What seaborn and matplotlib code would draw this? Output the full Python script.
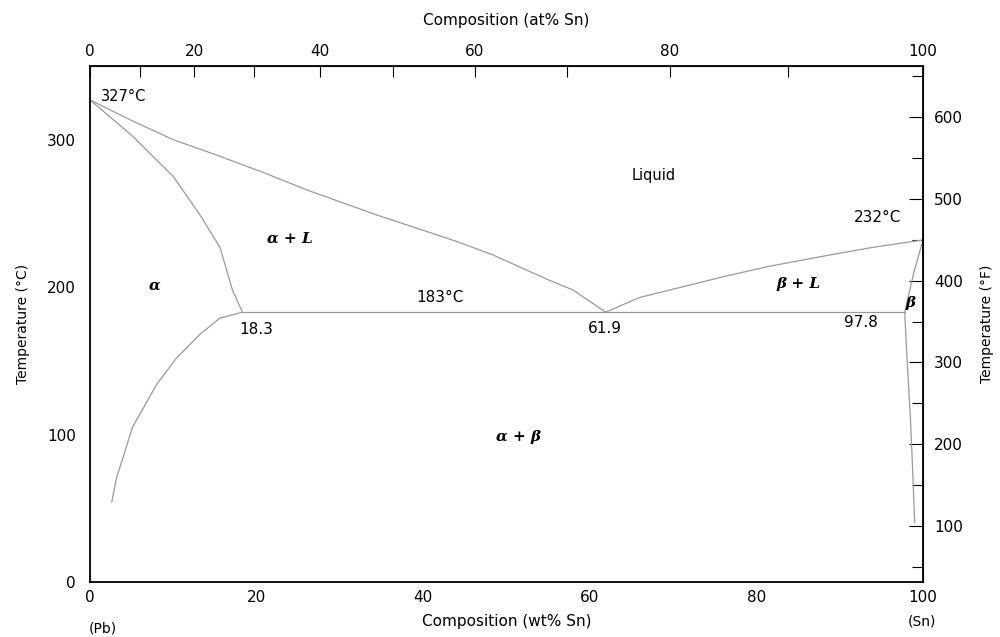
import numpy as np
import pandas as pd
import matplotlib
matplotlib.use("Agg")
import matplotlib.pyplot as plt
import seaborn as sns

# ---- data (wt% Sn, temperature in °C) ----
liq_left_wt = [0, 5, 10, 15, 20.7, 26, 34.4, 44, 48.3, 55, 58, 61.9]
liq_left_T = [327, 313, 300, 290, 278, 266, 249, 231, 222, 205, 198, 183]

liq_right_wt = [61.9, 66, 71, 76, 81.4, 89, 94, 100]
liq_right_T = [183, 193, 200, 207, 214, 222, 227, 232]

sol_alpha_wt = [0, 5, 10, 13.2, 15.6, 17.1, 18.3]
sol_alpha_T = [327, 303, 275, 249, 227, 198, 183]

solvus_alpha_wt = [18.3, 15.6, 13.2, 10.4, 8.0, 6.4, 5.1, 4.0, 3.2, 2.6]
solvus_alpha_T = [183, 179, 168, 152, 134, 118, 105, 85, 71, 54]

eutectic_wt = [18.3, 61.9, 97.8]
eutectic_T = [183, 183, 183]

sol_beta_wt = [100, 98.9, 97.8]
sol_beta_T = [232, 210, 183]

solvus_beta_wt = [97.8, 98.1, 98.5, 98.8, 99.0]
solvus_beta_T = [183, 150, 110, 70, 40]

wt_ticks = [0, 20, 40, 60, 80, 100]
at_ticks = [0, 20, 40, 60, 80, 100]
c_ticks = [0, 100, 200, 300]
f_ticks = [100, 200, 300, 400, 500, 600]

segments = {
    "liquidus_Pb": (liq_left_wt, liq_left_T),
    "liquidus_Sn": (liq_right_wt, liq_right_T),
    "solidus_alpha": (sol_alpha_wt, sol_alpha_T),
    "solvus_alpha": (solvus_alpha_wt, solvus_alpha_T),
    "eutectic": (eutectic_wt, eutectic_T),
    "solidus_beta": (sol_beta_wt, sol_beta_T),
    "solvus_beta": (solvus_beta_wt, solvus_beta_T),
}
rows = []
for name, (xs, ys) in segments.items():
    for i, (x, y) in enumerate(zip(xs, ys)):
        rows.append({"curve": name, "order": i, "wt": x, "T": y})
df = pd.DataFrame(rows)

MPB, MSN = 207.2, 118.71


def wt2at(w):
    w = np.clip(np.asarray(w, dtype=float), 0, 100)
    a = w / MSN
    b = (100 - w) / MPB
    with np.errstate(divide="ignore", invalid="ignore"):
        r = np.where(a + b > 0, 100 * a / (a + b), 0)
    return r


def at2wt(a):
    a = np.clip(np.asarray(a, dtype=float), 0, 100)
    p = a * MSN
    q = (100 - a) * MPB
    with np.errstate(divide="ignore", invalid="ignore"):
        r = np.where(p + q > 0, 100 * p / (p + q), 0)
    return r


def c2f(c):
    return np.asarray(c, dtype=float) * 9 / 5 + 32


def f2c(f):
    return (np.asarray(f, dtype=float) - 32) * 5 / 9


sns.set_style("white")
plt.rcParams["font.family"] = ["DejaVu Sans"]
plt.rcParams["text.color"] = "black"
plt.rcParams["axes.labelcolor"] = "black"
plt.rcParams["xtick.color"] = "black"
plt.rcParams["ytick.color"] = "black"

fig = plt.figure(figsize=(10, 6.37), dpi=100)
ax = fig.add_axes([0.09, 0.0864, 0.833, 0.8100])

sns.lineplot(data=df, x="wt", y="T", units="curve", estimator=None, sort=False,
             color="#9a9a9a", linewidth=0.9, ax=ax, legend=False)

ax.set_xlim(0, 100)
ax.set_ylim(0, 350)

for s in ax.spines.values():
    s.set_color("black")
    s.set_linewidth(1.3)

ax.set_xticks(wt_ticks)
ax.set_xticks([10, 30, 50, 70, 90], minor=True)
ax.set_yticks(c_ticks)
ax.tick_params(axis="x", which="both", direction="in", length=8, width=0.8,
               labelsize=11, pad=6, colors="black")
ax.tick_params(axis="y", which="both", direction="in", length=4, width=0.8,
               labelsize=11, pad=10, colors="black")

# top axis in at% Sn
secx = ax.secondary_xaxis("top", functions=(wt2at, at2wt))
secx.set_xticks(at_ticks)
secx.set_xticks([10, 30, 50, 70, 90], minor=True)
secx.tick_params(which="both", direction="in", length=8, width=0.8, labelsize=11, pad=5,
                 colors="black")
secx.set_xlabel("Composition (at% Sn)", fontsize=11, labelpad=14, color="black")

# right axis in °F
secy = ax.secondary_yaxis("right", functions=(c2f, f2c))
secy.set_yticks(f_ticks)
secy.set_yticks([50, 150, 250, 350, 450, 550, 650], minor=True)
secy.tick_params(which="major", direction="in", length=10, width=0.8, labelsize=11, pad=8,
                 colors="black")
secy.tick_params(which="minor", direction="in", length=8, width=0.8, colors="black")
secy.set_ylabel("Temperature (°F)", fontsize=10, labelpad=12, color="black")

ax.set_ylabel("Temperature (°C)", fontsize=10, labelpad=12, color="black")
ax.set_xlabel("Composition (wt% Sn)", fontsize=11, labelpad=6, color="black")

# region and point labels
ital = dict(fontfamily="DejaVu Serif", fontstyle="italic", fontweight="bold", fontsize=11)
ax.text(1.3, 329, "327°C", fontsize=10.5, ha="left", va="center")
ax.text(67.7, 276, "Liquid", fontsize=10.5, ha="center", va="center")
ax.text(24, 233, "α + L", ha="center", va="center", **ital)
ax.text(7.8, 201, "α", ha="center", va="center", **ital)
ax.text(42, 193, "183°C", fontsize=11, ha="center", va="center")
ax.text(20, 171, "18.3", fontsize=11, ha="center", va="center")
ax.text(61.8, 172, "61.9", fontsize=11, ha="center", va="center")
ax.text(92.6, 176, "97.8", fontsize=11, ha="center", va="center")
ax.text(94.5, 247, "232°C", fontsize=11, ha="center", va="center")
ax.text(85, 202, "β + L", ha="center", va="center", **ital)
ax.text(98.5, 189, "β", ha="center", va="center", **ital)
ax.text(51.5, 98, "α + β", ha="center", va="center", **ital)

fig.text(0.103, 0.003, "(Pb)", fontsize=10, ha="center", va="bottom")
fig.text(0.922, 0.014, "(Sn)", fontsize=10, ha="center", va="bottom")

fig.savefig("out.png", dpi=100, facecolor="white")
